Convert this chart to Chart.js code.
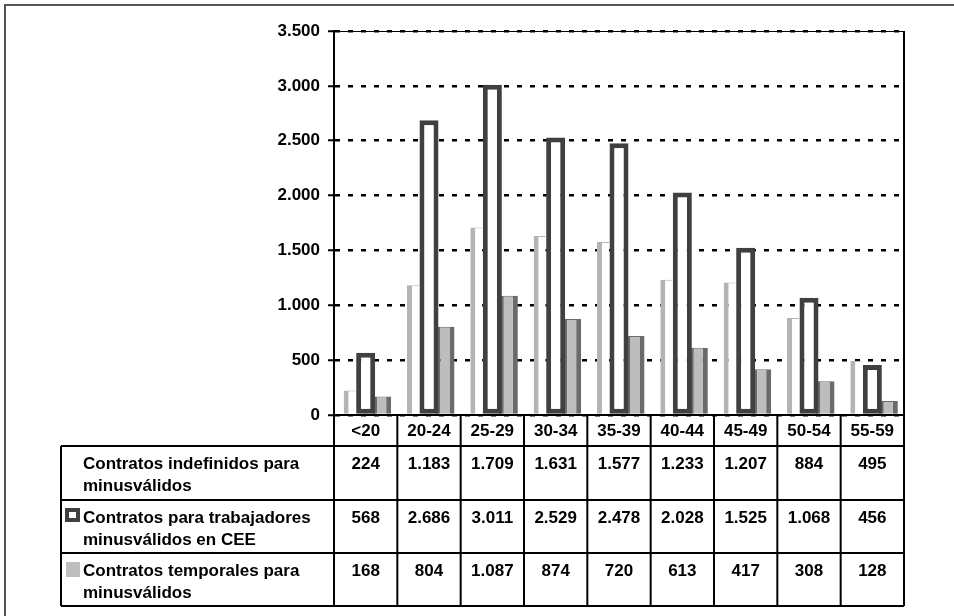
<!DOCTYPE html>
<html>
<head>
<meta charset="utf-8">
<script src="https://cdn.jsdelivr.net/npm/chart.js@4.4.1/dist/chart.umd.min.js"></script>
<style>
  body { margin: 0; background: #fff; }
  #caja { position: relative; width: 954px; height: 616px; }
</style>
</head>
<body>
<div id="caja"><canvas id="grafico"></canvas></div>
<script>
// datos
const categorias = ['<20', '20-24', '25-29', '30-34', '35-39', '40-44', '45-49', '50-54', '55-59'];
const indefinidos = [224, 1183, 1709, 1631, 1577, 1233, 1207, 884, 495];
const cee = [568, 2686, 3011, 2529, 2478, 2028, 1525, 1068, 456];
const temporales = [168, 804, 1087, 874, 720, 613, 417, 308, 128];
const nombresSeries = [
    ['Contratos indefinidos para', 'minusválidos'],
    ['Contratos para trabajadores', 'minusválidos en CEE'],
    ['Contratos temporales para', 'minusválidos']
];
const ejeMax = 3500;
const ejePaso = 500;

const fuente = '"Liberation Sans", Arial, sans-serif';

function formato(v) {
    return String(v).replace(/\B(?=(\d{3})+(?!\d))/g, '.');
}

// tabla de datos bajo el grafico, alineada con la escala x
const tablaDatos = {
    id: 'tablaDatos',
    afterDraw(chart) {
        const ctx = chart.ctx;
        const area = chart.chartArea;
        const x = chart.scales.x;
        const n = categorias.length;
        const mitad = (area.right - area.left) / n / 2;
        const bordes = [];
        for (let i = 0; i < n; i++) bordes.push(x.getPixelForValue(i) - mitad);
        bordes.push(area.right);

        const filaCat = area.bottom + 31;
        const filas = [filaCat, filaCat + 54, filaCat + 107, filaCat + 160];
        const izq = 61;

        ctx.save();
        // marco exterior
        ctx.strokeStyle = '#555';
        ctx.lineWidth = 2;
        ctx.beginPath();
        ctx.moveTo(5, 616);
        ctx.lineTo(5, 5);
        ctx.lineTo(954, 5);
        ctx.stroke();

        // marco del area
        ctx.strokeStyle = '#000';
        ctx.lineWidth = 1;
        ctx.beginPath();
        ctx.moveTo(area.left, area.top + 0.5);
        ctx.lineTo(area.right, area.top + 0.5);
        ctx.stroke();
        ctx.lineWidth = 2;
        ctx.beginPath();
        ctx.moveTo(area.right, area.top);
        ctx.lineTo(area.right, area.bottom);
        ctx.stroke();

        // lineas de la tabla
        ctx.beginPath();
        ctx.moveTo(area.left, area.bottom);
        ctx.lineTo(area.right, area.bottom);
        for (const f of filas) {
            ctx.moveTo(izq, f);
            ctx.lineTo(area.right, f);
        }
        for (const b of bordes) {
            ctx.moveTo(b, area.bottom);
            ctx.lineTo(b, filas[3]);
        }
        ctx.moveTo(izq, filas[0]);
        ctx.lineTo(izq, filas[3]);
        ctx.stroke();

        // textos
        const series = [indefinidos, cee, temporales];
        ctx.fillStyle = '#000';
        ctx.font = 'bold 17px ' + fuente;
        ctx.textBaseline = 'alphabetic';
        for (let s = 0; s < 3; s++) {
            const top = filas[s];
            ctx.textAlign = 'left';
            ctx.fillText(nombresSeries[s][0], 83, top + 23);
            ctx.fillText(nombresSeries[s][1], 83, top + 45);
            ctx.textAlign = 'center';
            for (let i = 0; i < n; i++) {
                ctx.fillText(formato(series[s][i]), x.getPixelForValue(i), top + 23);
            }
        }

        // claves de leyenda
        ctx.fillStyle = '#404040';
        ctx.fillRect(65, filas[1] + 8, 15, 14);
        ctx.fillStyle = '#fff';
        ctx.fillRect(69, filas[1] + 12, 7, 6);
        ctx.fillStyle = '#bebebe';
        ctx.fillRect(66, filas[2] + 9, 14, 15);
        ctx.restore();
    }
};

new Chart(document.getElementById('grafico'), {
    type: 'bar',
    data: {
        labels: categorias,
        datasets: [
            {
                label: nombresSeries[0].join(' '),
                data: indefinidos,
                backgroundColor: '#ffffff',
                borderColor: '#b4b4b4',
                borderWidth: { left: 5, top: 1, right: 0, bottom: 0 },
                borderSkipped: false,
                categoryPercentage: 0.758,
                barPercentage: 0.75
            },
            {
                label: nombresSeries[1].join(' '),
                data: cee,
                backgroundColor: '#ffffff',
                borderColor: '#404040',
                borderWidth: 5,
                borderSkipped: false,
                categoryPercentage: 0.758,
                barPercentage: 1.19
            },
            {
                label: nombresSeries[2].join(' '),
                data: temporales,
                backgroundColor: '#bdbdbd',
                borderColor: '#6b6b6b',
                borderWidth: { left: 5, top: 1, right: 5, bottom: 0 },
                borderSkipped: false,
                categoryPercentage: 0.758,
                barPercentage: 1.19
            }
        ]
    },
    options: {
        responsive: true,
        maintainAspectRatio: false,
        animation: false,
        layout: { padding: { left: 0, top: 31, right: 50, bottom: 170 } },
        plugins: {
            legend: { display: false },
            tooltip: { enabled: false }
        },
        scales: {
            x: {
                grid: { display: false, drawTicks: false },
                border: { display: false },
                ticks: {
                    color: '#000',
                    padding: 6,
                    font: { family: fuente, size: 17, weight: 'bold' }
                },
                afterFit(scale) { scale.height = 31; }
            },
            y: {
                min: 0,
                max: ejeMax,
                ticks: {
                    stepSize: ejePaso,
                    color: '#000',
                    padding: 8,
                    font: { family: fuente, size: 17, weight: 'bold' },
                    callback: v => formato(v)
                },
                grid: {
                    color: '#000',
                    lineWidth: 2.5,
                    tickLength: 6,
                    tickColor: '#000',
                    tickWidth: 2,
                    tickBorderDash: []
                },
                border: { display: true, color: '#000', width: 2, dash: [5, 8] },
                afterFit(scale) { scale.width = 334; }
            }
        }
    },
    plugins: [tablaDatos]
});
</script>
</body>
</html>
